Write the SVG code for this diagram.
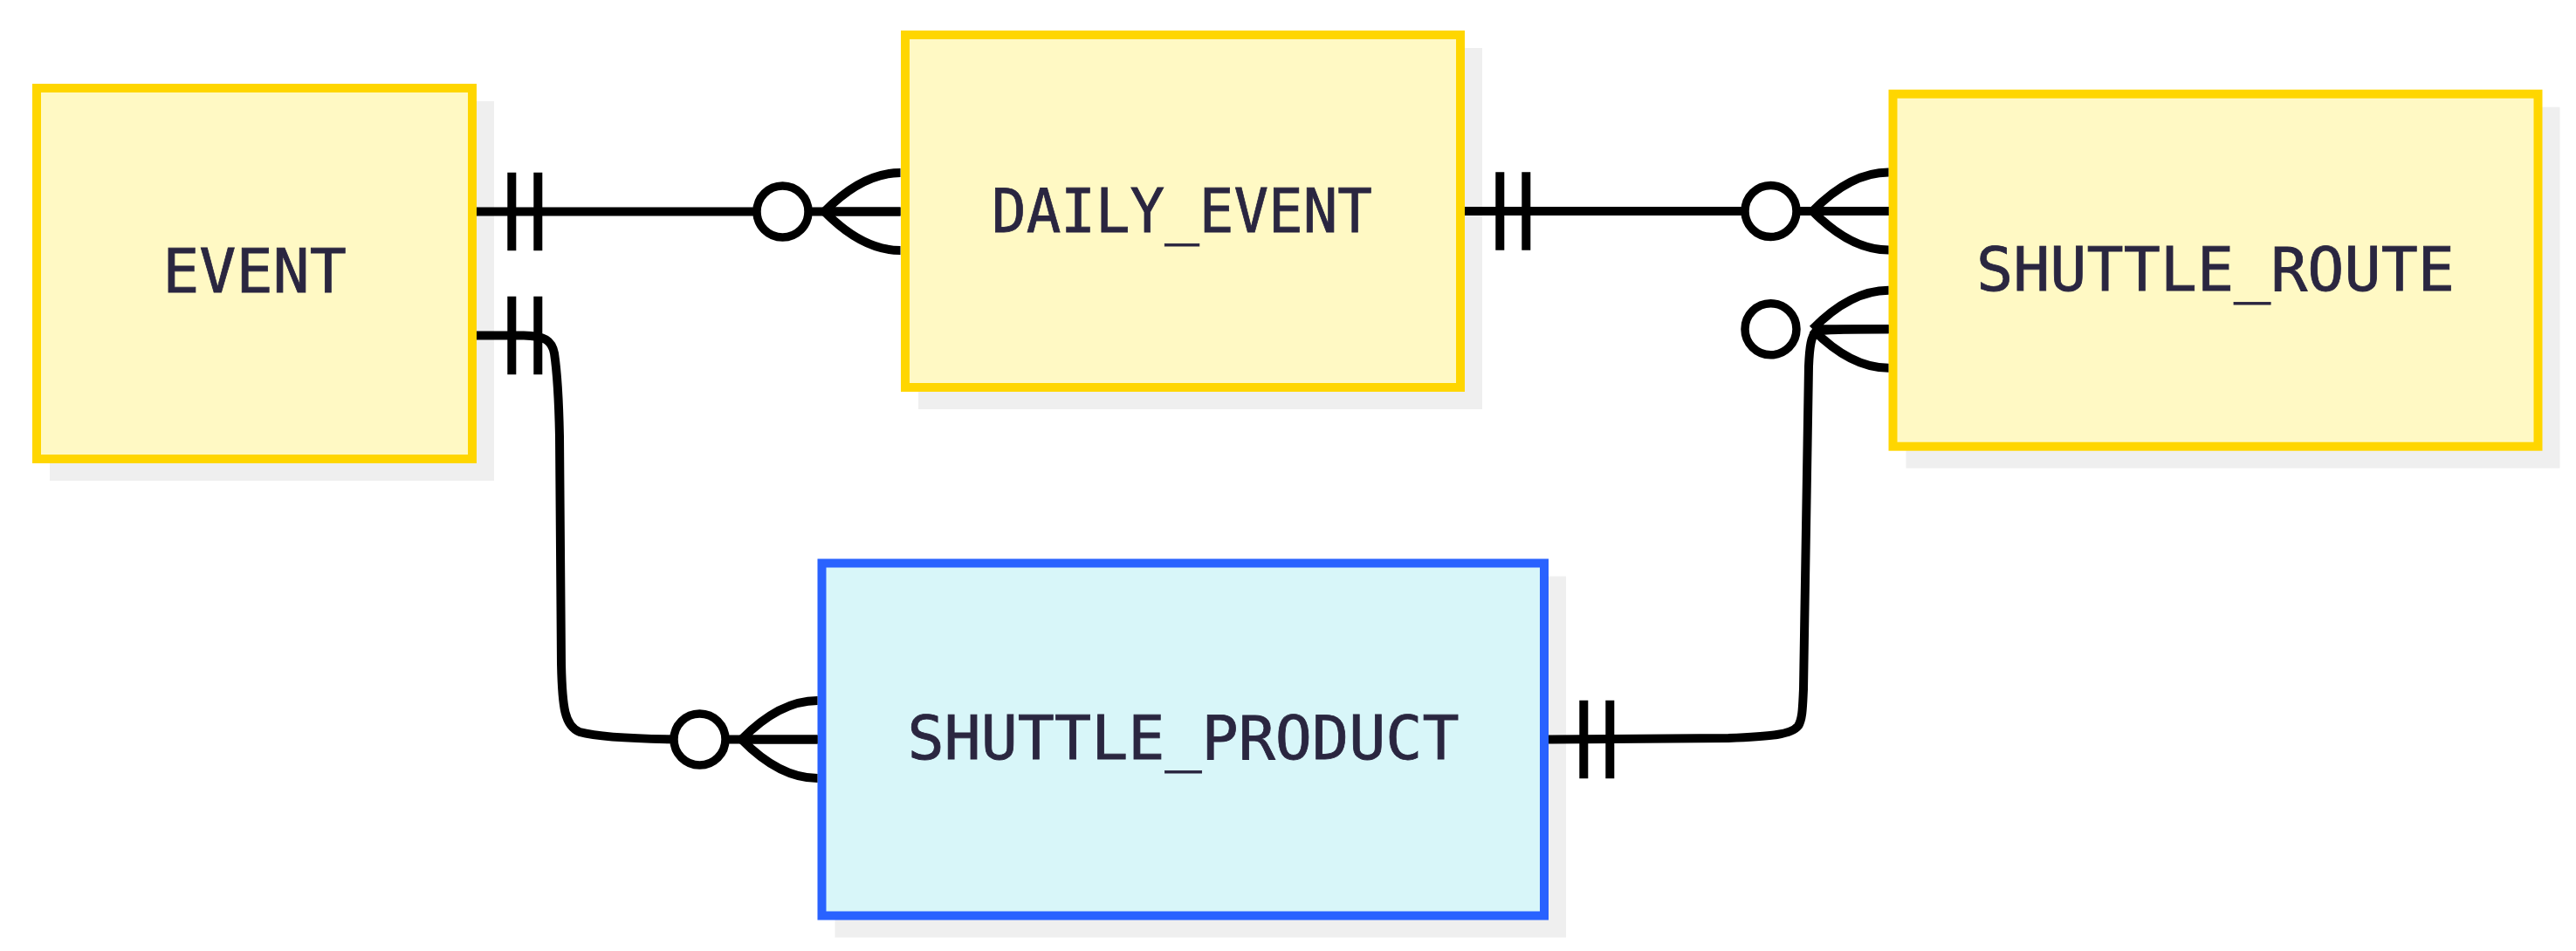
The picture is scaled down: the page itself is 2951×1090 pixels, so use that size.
<svg xmlns="http://www.w3.org/2000/svg" xmlns:xlink="http://www.w3.org/1999/xlink" width="2951" height="1090" viewBox="0 0 2951 1090">
  <style>
    .shadow { fill: #efefef; }
    .ent { fill: #fff9c4; stroke: #ffd600; stroke-width: 10; }
    .ent2 { fill: #d8f6f9; stroke: #2962ff; stroke-width: 10; }
    .lbl { font-family: "DejaVu Sans Mono", "Liberation Mono", monospace; font-size: 70px; fill: #2a2640; text-anchor: middle; stroke: #2a2640; stroke-width: 0.8; }
    .rel { fill: none; stroke: #000; stroke-width: 10; }
    .mk { fill: none; stroke: #000; stroke-width: 10; }
    .mkc { fill: #fff; stroke: #000; stroke-width: 9.5; }
  </style>
  <defs>
    <g id="onlyOne">
      <path class="mk" d="M40.3,-44.7 V44.7 M70.3,-44.7 V44.7"/>
    </g>
    <g id="zeroOrMore">
      <path class="mk" d="M-87,0 Q-43.5,-44.5 0,-44.5 M-87,0 L0,0 M-87,0 Q-43.5,44.5 0,44.5"/>
      <circle class="mkc" cx="-135" cy="0" r="29.5"/>
    </g>
  </defs>

  <g id="EVENT">
    <rect class="shadow" x="57" y="116" width="509" height="435"/>
    <rect class="ent" x="42" y="101" width="499" height="425"/>
    <text class="lbl" x="291.5" y="335">EVENT</text>
  </g>
  <g id="DAILY_EVENT">
    <rect class="shadow" x="1052" y="55" width="646" height="414"/>
    <rect class="ent" x="1037" y="40" width="636" height="404"/>
    <text class="lbl" x="1354" y="266" textLength="436" lengthAdjust="spacingAndGlyphs">DAILY_EVENT</text>
  </g>
  <g id="SHUTTLE_ROUTE">
    <rect class="shadow" x="2183.5" y="122.7" width="749" height="414"/>
    <rect class="ent" x="2168.5" y="107.7" width="739" height="404"/>
    <text class="lbl" x="2538" y="333">SHUTTLE_ROUTE</text>
  </g>
  <g id="SHUTTLE_PRODUCT">
    <rect class="shadow" x="956.5" y="660.5" width="837.5" height="414"/>
    <rect class="ent2" x="941.5" y="645.5" width="827.5" height="404"/>
    <text class="lbl" x="1355.5" y="870">SHUTTLE_PRODUCT</text>
  </g>

  <g id="connectors">
    <g id="rel-event-daily">
      <path class="rel" d="M546,242.5 L1031.5,242.5"/>
      <use xlink:href="#onlyOne" transform="translate(546,242.5)"/>
      <use xlink:href="#zeroOrMore" transform="translate(1031.5,242.5)"/>
    </g>
    <g id="rel-daily-route">
      <path class="rel" d="M1678,242 L2163.5,242"/>
      <use xlink:href="#onlyOne" transform="translate(1678,242)"/>
      <use xlink:href="#zeroOrMore" transform="translate(2163.5,242)"/>
    </g>
    <g id="rel-event-product">
      <path class="rel" d="M546,384.5 L600,384.5 C624,385 632,390 635,405 C638,425 640,450 641,500 L643,760 C644,812 647,832 664,839 C690,846 740,847.5 800,847.5 L936.5,847.5"/>
      <use xlink:href="#onlyOne" transform="translate(546,384.5)"/>
      <use xlink:href="#zeroOrMore" transform="translate(936.5,847.5)"/>
    </g>
    <g id="rel-product-route">
      <path class="rel" d="M1774,847.5 L1980,846 C2030,844 2052,842 2060,832 C2065,824 2065,810 2066,790 L2072,420 C2073,396 2075,386 2080,380 C2090,377.3 2120,377.3 2163.5,377.3"/>
      <use xlink:href="#onlyOne" transform="translate(1774,847.5)"/>
      <use xlink:href="#zeroOrMore" transform="translate(2163.5,377.3)"/>
    </g>
  </g>
</svg>
